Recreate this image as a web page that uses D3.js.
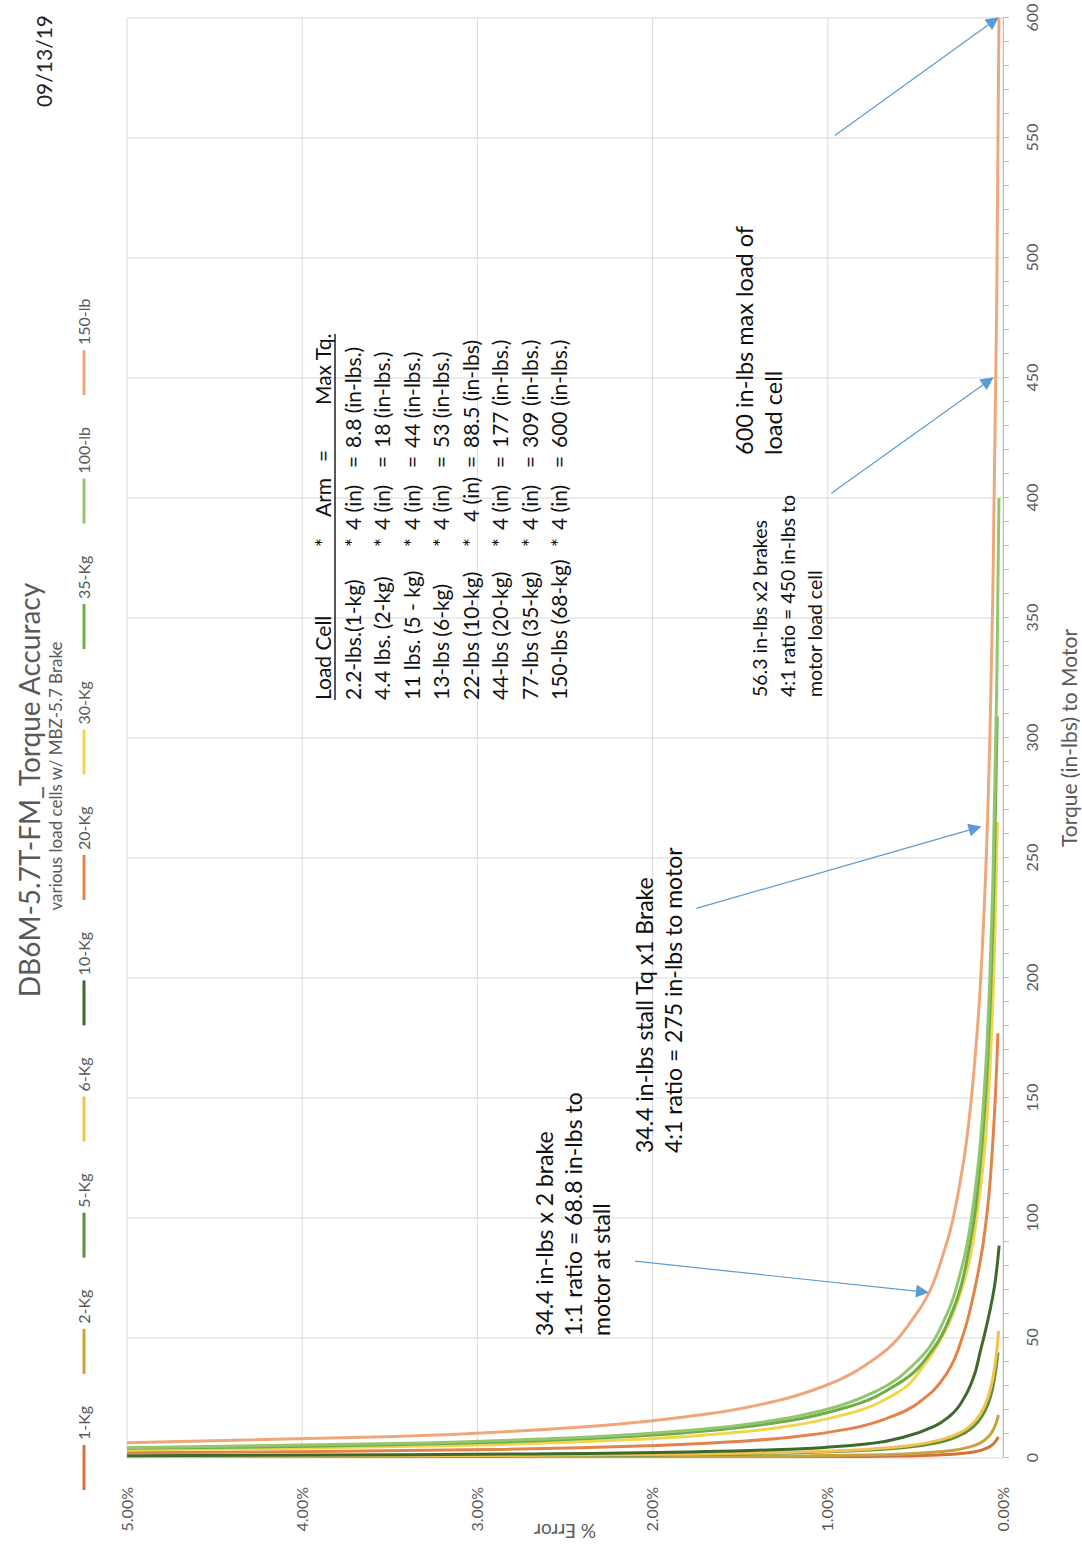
<!DOCTYPE html>
<html><head><meta charset="utf-8">
<script src="https://cdn.jsdelivr.net/npm/d3@7"></script>
<style>
body{margin:0;background:#fff}
text{font-family:Lato,"Open Sans",sans-serif}
</style>
</head><body>
<svg id="chart" width="1082" height="1560"></svg>
<script>
// ---------- DATA ----------
const seriesNames  = ["1-Kg","2-Kg","5-Kg","6-Kg","10-Kg","20-Kg","30-Kg","35-Kg","100-lb","150-lb"];
const seriesColors = ["#d5703a","#c9a23c","#5b8f3c","#f3c24b","#3d6a2a","#e2844a","#f2d54f","#6fac46","#92c66e","#efa77a"];

const t1Kg = [0.088,0.132,0.176,0.264,0.352,0.44,0.616,0.88,1.32,1.76,2.64,3.52,4.4,5.28,7.04,8.8];
const e1Kg = [5.67,3.77,2.82,1.87,1.395,1.11,0.784,0.54,0.35,0.255,0.16,0.113,0.084,0.065,0.041,0.027];
const t2Kg = [0.18,0.27,0.36,0.54,0.72,0.9,1.26,1.8,2.7,3.6,5.4,7.2,9,10.8,14.4,18];
const e2Kg = [5.57,3.70,2.77,1.84,1.37,1.09,0.77,0.53,0.343,0.25,0.157,0.11,0.082,0.063,0.04,0.026];
const t5Kg = [0.44,0.66,0.88,1.32,1.76,2.2,3.08,4.4,6.6,8.8,13.2,17.6,22,26.4,35.2,44];
const e5Kg = [5.87,3.90,2.92,1.94,1.445,1.15,0.813,0.56,0.363,0.265,0.167,0.118,0.088,0.068,0.044,0.029];
const t6Kg = [0.53,0.795,1.06,1.59,2.12,2.65,3.71,5.3,7.95,10.6,15.9,21.2,26.5,31.8,42.4,53];
const e6Kg = [5.47,3.64,2.72,1.80,1.345,1.07,0.756,0.52,0.337,0.245,0.153,0.108,0.08,0.062,0.039,0.025];
const t10Kg = [0.885,1.33,1.77,2.66,3.54,4.43,6.2,8.85,13.3,17.7,26.6,35.4,44.3,53.1,70.8,88.5];
const e10Kg = [5.17,3.44,2.57,1.70,1.27,1.01,0.74,0.56,0.39,0.30,0.21,0.16,0.13,0.10,0.05,0.022];
const t20Kg = [1.77,2.66,3.54,5.31,7.08,8.85,12.4,17.7,26.6,35.4,53.1,70.8,88.5,106.2,141.6,177];
const e20Kg = [5.87,3.90,2.92,1.94,1.47,1.19,0.86,0.62,0.42,0.32,0.22,0.16,0.115,0.085,0.05,0.029];
const t30Kg = [2.65,3.98,5.3,7.95,10.6,13.25,18.55,26.5,39.75,53,79.5,106,132.5,159,212,265];
const e30Kg = [6.17,4.10,3.07,2.04,1.53,1.23,0.88,0.62,0.44,0.33,0.20,0.14,0.10,0.077,0.048,0.032];
const t35Kg = [3.09,4.64,6.18,9.27,12.36,15.45,21.63,30.9,46.35,61.8,92.7,123.6,154.5,185.4,247.2,309];
const e35Kg = [6.27,4.17,3.12,2.07,1.545,1.23,0.87,0.60,0.39,0.285,0.18,0.128,0.096,0.075,0.049,0.033];
const t100lb = [4,6,8,12,16,20,28,40,60,80,120,160,200,240,320,400];
const e100lb = [5.22,3.47,2.595,1.72,1.28,1.02,0.72,0.495,0.32,0.233,0.145,0.101,0.075,0.058,0.036,0.023];
const t150lb = [6,9,12,18,24,30,42,60,90,120,180,240,300,360,480,600];
const e150lb = [5.22,3.47,2.595,1.72,1.28,1.02,0.72,0.495,0.32,0.233,0.145,0.101,0.075,0.058,0.036,0.023];

const seriesTorque = [t1Kg,t2Kg,t5Kg,t6Kg,t10Kg,t20Kg,t30Kg,t35Kg,t100lb,t150lb];
const seriesError  = [e1Kg,e2Kg,e5Kg,e6Kg,e10Kg,e20Kg,e30Kg,e35Kg,e100lb,e150lb];

const torqueTicks = [0,50,100,150,200,250,300,350,400,450,500,550,600];
const errorTicks  = [0,1,2,3,4,5];

const tableHeader = ["Load Cell","*","Arm","=","Max Tq."];
const tableCells  = ["2.2-lbs.(1-kg)","4.4 lbs. (2-kg)","11 lbs. (5 - kg)","13-lbs (6-kg)","22-lbs (10-kg)","44-lbs (20-kg)","77-lbs (35-kg)","150-lbs (68-kg)"];
const tableArm    = ["4 (in)","4 (in)","4 (in)","4 (in)","4 (in)","4 (in)","4 (in)","4 (in)"];
const tableMaxTq  = ["8.8 (in-lbs.)","18 (in-lbs.)","44 (in-lbs.)","53 (in-lbs.)","88.5 (in-lbs)","177 (in-lbs.)","309 (in-lbs.)","600 (in-lbs.)"];

const notes = [
  {lines:["34.4 in-lbs x 2 brake","1:1 ratio = 68.8 in-lbs to","motor at stall"], from:[82,2.1], to:[69,0.43]},
  {lines:["34.4 in-lbs stall Tq x1 Brake","4:1 ratio = 275 in-lbs to motor"], from:[229,1.75], to:[263,0.13]},
  {lines:["56.3 in-lbs x2 brakes","4:1 ratio = 450 in-lbs to","motor load cell"], from:[402,0.98], to:[450,0.06]},
  {lines:["600 in-lbs max load of","load cell"], from:[551,0.96], to:[600,0.03]}
];

// ---------- LAYOUT ----------
const W = 1560, H = 1082;
const svg = d3.select("#chart");
const g = svg.append("g").attr("transform","translate(0,1560) rotate(-90)");
g.append("rect").attr("width",W).attr("height",H).attr("fill","#fff");

const x = d3.scaleLinear().domain([0,600]).range([102,1542]);
const y = d3.scaleLinear().domain([0,5]).range([1003,127]);

const defs = svg.append("defs");
defs.append("clipPath").attr("id","plotclip").append("rect")
  .attr("x",x(0)).attr("y",y(5)).attr("width",x(600)-x(0)).attr("height",y(0)-y(5));
defs.append("marker").attr("id","arrow").attr("viewBox","0 0 10 10")
  .attr("refX",9).attr("refY",5).attr("markerWidth",16).attr("markerHeight",13)
  .attr("markerUnits","userSpaceOnUse").attr("orient","auto")
  .append("path").attr("d","M0,0 L10,5 L0,10 Z").attr("fill","#5b9bd5");

// gridlines
g.append("g").selectAll("line").data(torqueTicks).join("line")
  .attr("x1",d=>x(d)).attr("x2",d=>x(d)).attr("y1",y(5)).attr("y2",y(0))
  .attr("stroke","#d9d9d9").attr("stroke-width",1);
g.append("g").selectAll("line").data(errorTicks).join("line")
  .attr("x1",x(0)).attr("x2",x(600)).attr("y1",d=>y(d)).attr("y2",d=>y(d))
  .attr("stroke","#d9d9d9").attr("stroke-width",1);

// x axis
const xAxis = d3.axisBottom(x).tickValues(d3.range(0,601,10)).tickSize(6).tickPadding(18)
  .tickFormat(d => d % 50 === 0 ? d : "");
const xa = g.append("g").attr("transform",`translate(0,${y(0)})`).call(xAxis);
xa.select(".domain").attr("stroke","#bfbfbf");
xa.selectAll(".tick line").attr("stroke","#bfbfbf");
xa.selectAll(".tick text").attr("fill","#595959").style("font-size","16px").style("font-family","Lato");

// y axis labels
const ya = g.append("g");
ya.selectAll("text").data(errorTicks).join("text")
  .attr("x",73).attr("y",d=>y(d)).attr("dy","0.35em").attr("text-anchor","end")
  .attr("fill","#595959").style("font-size","16px").text(d=>d3.format(".2f")(d)+"%");

// series
const line = d3.line().x(d=>x(d[0])).y(d=>y(d[1])).curve(d3.curveMonotoneX);
const plot = g.append("g").attr("clip-path","url(#plotclip)");
seriesNames.forEach((n,i)=>{
  const pts = seriesTorque[i].map((t,j)=>[t, seriesError[i][j]]);
  plot.append("path").attr("d",line(pts)).attr("fill","none")
    .attr("stroke",seriesColors[i]).attr("stroke-width",3).attr("stroke-linejoin","round");
});

// titles
g.append("text").attr("x",770).attr("y",40).attr("text-anchor","middle")
  .attr("fill","#595959").style("font-size","28px").text("DB6M-5.7T-FM_Torque Accuracy");
g.append("text").attr("x",784).attr("y",62).attr("text-anchor","middle")
  .attr("fill","#595959").style("font-size","17px").text("various load cells w/ MBZ-5.7 Brake");
g.append("text").attr("x",1545).attr("y",52).attr("text-anchor","end")
  .attr("fill","#222").style("font-size","21px").text("09/13/19");

// axis titles
g.append("text").attr("x",(x(0)+x(600))/2).attr("y",1077).attr("text-anchor","middle")
  .attr("fill","#595959").style("font-size","21px").text("Torque (in-lbs) to Motor");
g.append("text").attr("transform",`translate(36,${(y(0)+y(5))/2}) rotate(-90)`).attr("text-anchor","middle")
  .attr("fill","#595959").style("font-size","19px").text("% Error");

// legend
const leg = g.append("g");
let lx = 70;
seriesNames.forEach((n,i)=>{
  leg.append("line").attr("x1",lx).attr("x2",lx+45).attr("y1",84).attr("y2",84)
    .attr("stroke",seriesColors[i]).attr("stroke-width",3);
  const t = leg.append("text").attr("x",lx+50).attr("y",90).attr("fill","#595959")
    .style("font-size","16px").text(n);
  lx += 50 + t.node().getComputedTextLength() + 32;
});

// table
const tbl = g.append("g").attr("fill","#111").style("font-size","21px");
const colX = [860,1013,1030,1092,1112];
const headX = [860,1013,1043,1098,1155];
const rowY0 = 331, rowH = 29.5;
tableHeader.forEach((h,k)=>{
  tbl.append("text").attr("x",headX[k]).attr("y",rowY0).text(h);
});
tbl.append("line").attr("x1",860).attr("x2",1226).attr("y1",rowY0+4).attr("y2",rowY0+4)
  .attr("stroke","#111").attr("stroke-width",1.4);
tableCells.forEach((c,r)=>{
  const yy = rowY0 + rowH*(r+1);
  tbl.append("text").attr("x",colX[0]).attr("y",yy).text(c);
  tbl.append("text").attr("x",colX[1]).attr("y",yy).text("*");
  tbl.append("text").attr("x",colX[2] + (r===4?8:0)).attr("y",yy).text(tableArm[r]);
  tbl.append("text").attr("x",colX[3]).attr("y",yy).text("=");
  tbl.append("text").attr("x",colX[4]).attr("y",yy).text(tableMaxTq[r]);
});

// annotations
const ann = g.append("g");
const noteStart = [224,407,863,1105];
const noteBase  = [553,653,767,753];
const noteSize  = [23,23,19.5,23.5];
const noteLead  = [28.5,28.5,27.5,28.5];
notes.forEach((nt,i)=>{
  const te = ann.append("text").attr("fill","#111").style("font-size",noteSize[i]+"px");
  nt.lines.forEach((l,k)=>{
    te.append("tspan").attr("x",noteStart[i]).attr("y",noteBase[i]+k*noteLead[i]).text(l);
  });
  ann.append("line").attr("x1",x(nt.from[0])).attr("y1",y(nt.from[1]))
    .attr("x2",x(nt.to[0])).attr("y2",y(nt.to[1]))
    .attr("stroke","#5b9bd5").attr("stroke-width",1.2).attr("marker-end","url(#arrow)");
});
</script>
</body></html>
